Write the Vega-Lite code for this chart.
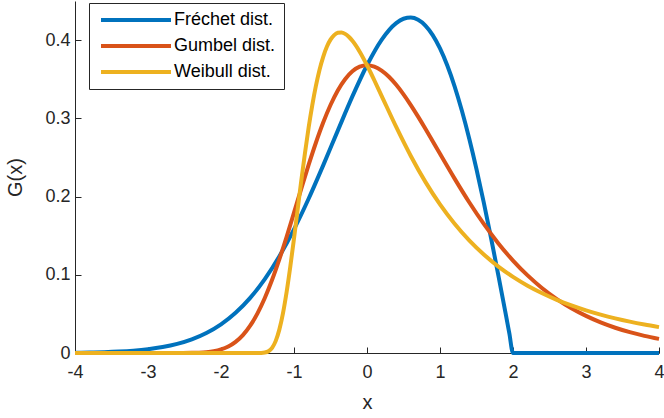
{
  "$schema": "https://vega.github.io/schema/vega-lite/v6.json",
  "autosize": "none",
  "padding": {"left": 75, "top": 1, "right": 5, "bottom": 65},
  "width": 584,
  "height": 352,
  "background": "white",
  "config": {
    "view": {"stroke": null},
    "font": "Liberation Sans"
  },
  "datasets": {
    "curves": [
      {"x": -4, "g": 0.00037, "dist": "Fréchet dist."},
      {"x": -3.8, "g": 0.000645, "dist": "Fréchet dist."},
      {"x": -3.6, "g": 0.0011, "dist": "Fréchet dist."},
      {"x": -3.4, "g": 0.00184, "dist": "Fréchet dist."},
      {"x": -3.2, "g": 0.00301, "dist": "Fréchet dist."},
      {"x": -3.0, "g": 0.00483, "dist": "Fréchet dist."},
      {"x": -2.8, "g": 0.00756, "dist": "Fréchet dist."},
      {"x": -2.6, "g": 0.0116, "dist": "Fréchet dist."},
      {"x": -2.4, "g": 0.0174, "dist": "Fréchet dist."},
      {"x": -2.2, "g": 0.0255, "dist": "Fréchet dist."},
      {"x": -2.0, "g": 0.0366, "dist": "Fréchet dist."},
      {"x": -1.8, "g": 0.0514, "dist": "Fréchet dist."},
      {"x": -1.6, "g": 0.0705, "dist": "Fréchet dist."},
      {"x": -1.4, "g": 0.0945, "dist": "Fréchet dist."},
      {"x": -1.2, "g": 0.1237, "dist": "Fréchet dist."},
      {"x": -1.0, "g": 0.1581, "dist": "Fréchet dist."},
      {"x": -0.8, "g": 0.1972, "dist": "Fréchet dist."},
      {"x": -0.6, "g": 0.2399, "dist": "Fréchet dist."},
      {"x": -0.4, "g": 0.2843, "dist": "Fréchet dist."},
      {"x": -0.2, "g": 0.328, "dist": "Fréchet dist."},
      {"x": 0, "g": 0.3679, "dist": "Fréchet dist."},
      {"x": 0.2, "g": 0.4004, "dist": "Fréchet dist."},
      {"x": 0.4, "g": 0.4218, "dist": "Fréchet dist."},
      {"x": 0.5, "g": 0.4273, "dist": "Fréchet dist."},
      {"x": 0.6, "g": 0.4288, "dist": "Fréchet dist."},
      {"x": 0.7, "g": 0.426, "dist": "Fréchet dist."},
      {"x": 0.8, "g": 0.4186, "dist": "Fréchet dist."},
      {"x": 0.9, "g": 0.4064, "dist": "Fréchet dist."},
      {"x": 1.0, "g": 0.3894, "dist": "Fréchet dist."},
      {"x": 1.1, "g": 0.3675, "dist": "Fréchet dist."},
      {"x": 1.2, "g": 0.3409, "dist": "Fréchet dist."},
      {"x": 1.3, "g": 0.3096, "dist": "Fréchet dist."},
      {"x": 1.4, "g": 0.2742, "dist": "Fréchet dist."},
      {"x": 1.5, "g": 0.2349, "dist": "Fréchet dist."},
      {"x": 1.6, "g": 0.1922, "dist": "Fréchet dist."},
      {"x": 1.7, "g": 0.1467, "dist": "Fréchet dist."},
      {"x": 1.8, "g": 0.099, "dist": "Fréchet dist."},
      {"x": 1.9, "g": 0.0499, "dist": "Fréchet dist."},
      {"x": 1.95, "g": 0.025, "dist": "Fréchet dist."},
      {"x": 2.0, "g": 0, "dist": "Fréchet dist."},
      {"x": 2.5, "g": 0, "dist": "Fréchet dist."},
      {"x": 3.0, "g": 0, "dist": "Fréchet dist."},
      {"x": 3.5, "g": 0, "dist": "Fréchet dist."},
      {"x": 4.0, "g": 0, "dist": "Fréchet dist."},

      {"x": -4, "g": 0, "dist": "Gumbel dist."},
      {"x": -3.5, "g": 0, "dist": "Gumbel dist."},
      {"x": -3.0, "g": 0, "dist": "Gumbel dist."},
      {"x": -2.8, "g": 0.0000012, "dist": "Gumbel dist."},
      {"x": -2.6, "g": 0.000019, "dist": "Gumbel dist."},
      {"x": -2.4, "g": 0.00018, "dist": "Gumbel dist."},
      {"x": -2.3, "g": 0.000465, "dist": "Gumbel dist."},
      {"x": -2.2, "g": 0.00109, "dist": "Gumbel dist."},
      {"x": -2.1, "g": 0.00232, "dist": "Gumbel dist."},
      {"x": -2.0, "g": 0.00457, "dist": "Gumbel dist."},
      {"x": -1.9, "g": 0.00835, "dist": "Gumbel dist."},
      {"x": -1.8, "g": 0.01426, "dist": "Gumbel dist."},
      {"x": -1.7, "g": 0.02296, "dist": "Gumbel dist."},
      {"x": -1.6, "g": 0.03498, "dist": "Gumbel dist."},
      {"x": -1.5, "g": 0.05071, "dist": "Gumbel dist."},
      {"x": -1.4, "g": 0.07028, "dist": "Gumbel dist."},
      {"x": -1.3, "g": 0.09355, "dist": "Gumbel dist."},
      {"x": -1.2, "g": 0.12, "dist": "Gumbel dist."},
      {"x": -1.1, "g": 0.1489, "dist": "Gumbel dist."},
      {"x": -1.0, "g": 0.1794, "dist": "Gumbel dist."},
      {"x": -0.9, "g": 0.2102, "dist": "Gumbel dist."},
      {"x": -0.8, "g": 0.2404, "dist": "Gumbel dist."},
      {"x": -0.7, "g": 0.2688, "dist": "Gumbel dist."},
      {"x": -0.6, "g": 0.2946, "dist": "Gumbel dist."},
      {"x": -0.5, "g": 0.317, "dist": "Gumbel dist."},
      {"x": -0.4, "g": 0.3356, "dist": "Gumbel dist."},
      {"x": -0.3, "g": 0.35, "dist": "Gumbel dist."},
      {"x": -0.2, "g": 0.3601, "dist": "Gumbel dist."},
      {"x": -0.1, "g": 0.366, "dist": "Gumbel dist."},
      {"x": 0, "g": 0.3679, "dist": "Gumbel dist."},
      {"x": 0.1, "g": 0.3661, "dist": "Gumbel dist."},
      {"x": 0.2, "g": 0.3611, "dist": "Gumbel dist."},
      {"x": 0.3, "g": 0.3532, "dist": "Gumbel dist."},
      {"x": 0.4, "g": 0.3429, "dist": "Gumbel dist."},
      {"x": 0.5, "g": 0.3307, "dist": "Gumbel dist."},
      {"x": 0.6, "g": 0.317, "dist": "Gumbel dist."},
      {"x": 0.7, "g": 0.3022, "dist": "Gumbel dist."},
      {"x": 0.8, "g": 0.2867, "dist": "Gumbel dist."},
      {"x": 0.9, "g": 0.2707, "dist": "Gumbel dist."},
      {"x": 1.0, "g": 0.2546, "dist": "Gumbel dist."},
      {"x": 1.2, "g": 0.2229, "dist": "Gumbel dist."},
      {"x": 1.4, "g": 0.1927, "dist": "Gumbel dist."},
      {"x": 1.6, "g": 0.165, "dist": "Gumbel dist."},
      {"x": 1.8, "g": 0.1401, "dist": "Gumbel dist."},
      {"x": 2.0, "g": 0.1182, "dist": "Gumbel dist."},
      {"x": 2.2, "g": 0.0992, "dist": "Gumbel dist."},
      {"x": 2.4, "g": 0.0828, "dist": "Gumbel dist."},
      {"x": 2.6, "g": 0.069, "dist": "Gumbel dist."},
      {"x": 2.8, "g": 0.0572, "dist": "Gumbel dist."},
      {"x": 3.0, "g": 0.0474, "dist": "Gumbel dist."},
      {"x": 3.2, "g": 0.0391, "dist": "Gumbel dist."},
      {"x": 3.4, "g": 0.0323, "dist": "Gumbel dist."},
      {"x": 3.6, "g": 0.0266, "dist": "Gumbel dist."},
      {"x": 3.8, "g": 0.0219, "dist": "Gumbel dist."},
      {"x": 4.0, "g": 0.018, "dist": "Gumbel dist."},

      {"x": -4, "g": 0, "dist": "Weibull dist."},
      {"x": -3, "g": 0, "dist": "Weibull dist."},
      {"x": -2, "g": 0, "dist": "Weibull dist."},
      {"x": -1.6, "g": 0, "dist": "Weibull dist."},
      {"x": -1.5, "g": 0.0000072, "dist": "Weibull dist."},
      {"x": -1.45, "g": 0.000087, "dist": "Weibull dist."},
      {"x": -1.4, "g": 0.00055, "dist": "Weibull dist."},
      {"x": -1.35, "g": 0.00226, "dist": "Weibull dist."},
      {"x": -1.3, "g": 0.00665, "dist": "Weibull dist."},
      {"x": -1.25, "g": 0.0155, "dist": "Weibull dist."},
      {"x": -1.2, "g": 0.0302, "dist": "Weibull dist."},
      {"x": -1.15, "g": 0.0514, "dist": "Weibull dist."},
      {"x": -1.1, "g": 0.0787, "dist": "Weibull dist."},
      {"x": -1.05, "g": 0.1109, "dist": "Weibull dist."},
      {"x": -1.0, "g": 0.1465, "dist": "Weibull dist."},
      {"x": -0.95, "g": 0.1836, "dist": "Weibull dist."},
      {"x": -0.9, "g": 0.2204, "dist": "Weibull dist."},
      {"x": -0.85, "g": 0.2555, "dist": "Weibull dist."},
      {"x": -0.8, "g": 0.2879, "dist": "Weibull dist."},
      {"x": -0.75, "g": 0.3166, "dist": "Weibull dist."},
      {"x": -0.7, "g": 0.3414, "dist": "Weibull dist."},
      {"x": -0.65, "g": 0.3622, "dist": "Weibull dist."},
      {"x": -0.6, "g": 0.3787, "dist": "Weibull dist."},
      {"x": -0.55, "g": 0.3915, "dist": "Weibull dist."},
      {"x": -0.5, "g": 0.4006, "dist": "Weibull dist."},
      {"x": -0.45, "g": 0.4064, "dist": "Weibull dist."},
      {"x": -0.4, "g": 0.4094, "dist": "Weibull dist."},
      {"x": -0.35, "g": 0.4098, "dist": "Weibull dist."},
      {"x": -0.3, "g": 0.408, "dist": "Weibull dist."},
      {"x": -0.25, "g": 0.4043, "dist": "Weibull dist."},
      {"x": -0.2, "g": 0.3991, "dist": "Weibull dist."},
      {"x": -0.1, "g": 0.3852, "dist": "Weibull dist."},
      {"x": 0, "g": 0.3679, "dist": "Weibull dist."},
      {"x": 0.1, "g": 0.3487, "dist": "Weibull dist."},
      {"x": 0.2, "g": 0.3288, "dist": "Weibull dist."},
      {"x": 0.4, "g": 0.289, "dist": "Weibull dist."},
      {"x": 0.6, "g": 0.2519, "dist": "Weibull dist."},
      {"x": 0.8, "g": 0.2188, "dist": "Weibull dist."},
      {"x": 1.0, "g": 0.19, "dist": "Weibull dist."},
      {"x": 1.2, "g": 0.1652, "dist": "Weibull dist."},
      {"x": 1.4, "g": 0.144, "dist": "Weibull dist."},
      {"x": 1.6, "g": 0.126, "dist": "Weibull dist."},
      {"x": 1.8, "g": 0.1105, "dist": "Weibull dist."},
      {"x": 2.0, "g": 0.0974, "dist": "Weibull dist."},
      {"x": 2.2, "g": 0.0861, "dist": "Weibull dist."},
      {"x": 2.4, "g": 0.0764, "dist": "Weibull dist."},
      {"x": 2.6, "g": 0.068, "dist": "Weibull dist."},
      {"x": 2.8, "g": 0.0608, "dist": "Weibull dist."},
      {"x": 3.0, "g": 0.0545, "dist": "Weibull dist."},
      {"x": 3.2, "g": 0.0491, "dist": "Weibull dist."},
      {"x": 3.4, "g": 0.0443, "dist": "Weibull dist."},
      {"x": 3.6, "g": 0.0401, "dist": "Weibull dist."},
      {"x": 3.8, "g": 0.0364, "dist": "Weibull dist."},
      {"x": 4.0, "g": 0.0331, "dist": "Weibull dist."}
    ]
  },
  "data": {"name": "curves"},
  "mark": {"type": "line", "strokeWidth": 4, "interpolate": "monotone", "strokeCap": "butt", "strokeJoin": "round"},
  "encoding": {
    "x": {
      "field": "x", "type": "quantitative",
      "scale": {"domain": [-4, 4], "nice": false, "zero": false},
      "axis": {
        "title": "x", "values": [-4, -3, -2, -1, 0, 1, 2, 3, 4],
        "labelExpr": "'' + datum.value",
        "grid": false, "tickSize": -6, "labelPadding": 16,
        "domainColor": "#262626", "tickColor": "#262626",
        "labelColor": "#262626", "labelFontSize": 18, "labelFont": "Liberation Sans",
        "titleColor": "#262626", "titleFontSize": 20, "titleFontWeight": "normal", "titleFont": "Liberation Sans",
        "titlePadding": 11, "labelFlush": false
      }
    },
    "y": {
      "field": "g", "type": "quantitative",
      "scale": {"domain": [0, 0.45], "nice": false},
      "axis": {
        "title": "G(x)", "values": [0, 0.1, 0.2, 0.3, 0.4],
        "labelExpr": "'' + datum.value",
        "grid": false, "tickSize": -6, "labelPadding": 11,
        "domainColor": "#262626", "tickColor": "#262626",
        "labelColor": "#262626", "labelFontSize": 18, "labelFont": "Liberation Sans",
        "titleColor": "#262626", "titleFontSize": 20, "titleFontWeight": "normal", "titleFont": "Liberation Sans",
        "titlePadding": 19, "labelFlush": false
      }
    },
    "color": {
      "field": "dist", "type": "nominal",
      "scale": {"domain": ["Fréchet dist.", "Gumbel dist.", "Weibull dist."], "range": ["#0072BD", "#D95319", "#EDB120"]},
      "legend": {
        "title": null, "orient": "none", "legendX": 14, "legendY": 2,
        "padding": 8, "strokeColor": "#262626", "fillColor": "white",
        "symbolType": "M-7,0H7", "symbolSize": 100, "symbolStrokeWidth": 4,
        "symbolOffset": 30, "labelOffset": 29, "labelFontSize": 18, "labelFont": "Liberation Sans",
        "labelColor": "#000000", "rowPadding": 8, "cornerRadius": 0
      }
    }
  }
}
